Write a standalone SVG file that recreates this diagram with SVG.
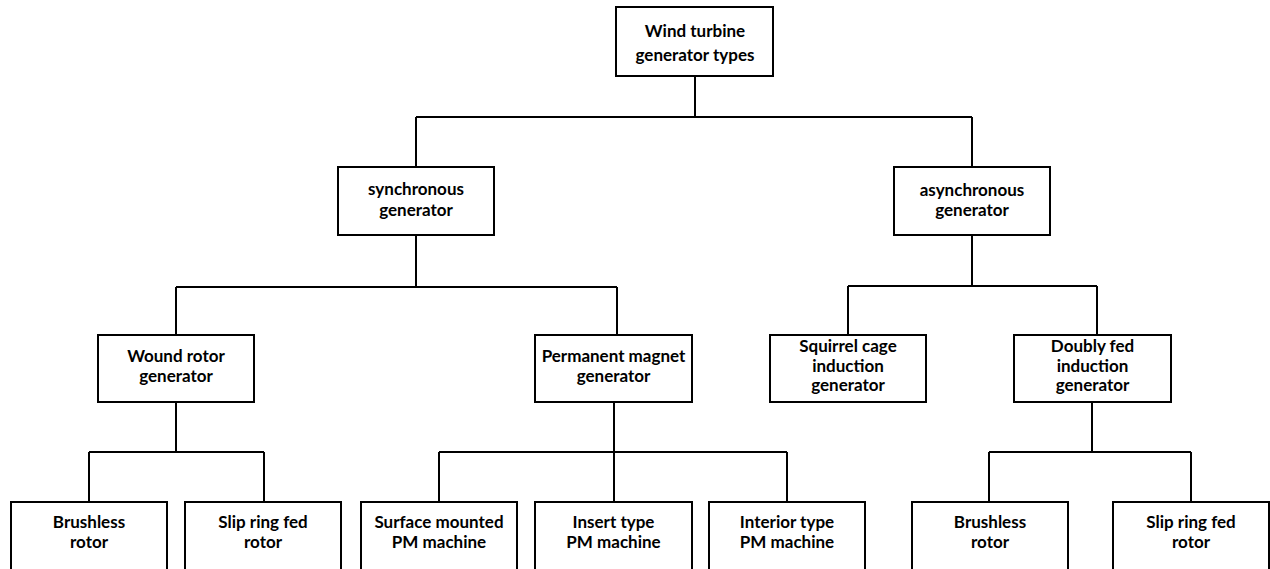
<svg xmlns="http://www.w3.org/2000/svg" width="1270" height="569" viewBox="0 0 1270 569">
<style>
.box{fill:#fff;stroke:#000;stroke-width:2}
.c{fill:none;stroke:#000;stroke-width:2}
text{font-family:Lato,"Liberation Sans",sans-serif;font-size:17px;font-weight:bold;text-anchor:middle;fill:#000}
</style>
<rect width="1270" height="569" fill="#fff"/>
<g id="connectors">
<path class="c" d="M695 76V117M416 117H972M416 117V167M972 117V167"/>
<path class="c" d="M416 235V287M176 287H617M176 287V335M617 287V335"/>
<path class="c" d="M972 235V286M848 286H1097M848 286V335M1097 286V335"/>
<path class="c" d="M176 402V452M89 452H264M89 452V502M264 452V502"/>
<path class="c" d="M614 402V452M439 452H787M439 452V502M614 452V502M787 452V502"/>
<path class="c" d="M1092 402V452M989 452H1191M989 452V502M1191 452V502"/>
</g>
<g id="n_root"><rect class="box" x="616" y="7" width="157" height="69"/><text x="695" y="37">Wind turbine</text><text x="695" y="61">generator types</text></g>
<g id="n_sync"><rect class="box" x="338" y="167" width="156" height="68"/><text x="416" y="195">synchronous</text><text x="416" y="216">generator</text></g>
<g id="n_async"><rect class="box" x="894" y="167" width="156" height="68"/><text x="972" y="196">asynchronous</text><text x="972" y="216">generator</text></g>
<g id="n_wound"><rect class="box" x="98" y="335" width="156" height="67"/><text x="176" y="362">Wound rotor</text><text x="176" y="382">generator</text></g>
<g id="n_pm"><rect class="box" x="535" y="335" width="157" height="67"/><text x="613.5" y="362">Permanent magnet</text><text x="613.5" y="382">generator</text></g>
<g id="n_squirrel"><rect class="box" x="770" y="335" width="156" height="67"/><text x="848" y="352">Squirrel cage</text><text x="848" y="372">induction</text><text x="848" y="391">generator</text></g>
<g id="n_doubly"><rect class="box" x="1014" y="335" width="157" height="67"/><text x="1092.5" y="352">Doubly fed</text><text x="1092.5" y="372">induction</text><text x="1092.5" y="391">generator</text></g>
<g id="n_brushless1"><rect class="box" x="11" y="502" width="156" height="80"/><text x="89" y="528">Brushless</text><text x="89" y="548">rotor</text></g>
<g id="n_slip1"><rect class="box" x="185" y="502" width="156" height="80"/><text x="263" y="528">Slip ring fed</text><text x="263" y="548">rotor</text></g>
<g id="n_surface"><rect class="box" x="361" y="502" width="156" height="80"/><text x="439" y="528">Surface mounted</text><text x="439" y="548">PM machine</text></g>
<g id="n_insert"><rect class="box" x="535" y="502" width="157" height="80"/><text x="613.5" y="528">Insert type</text><text x="613.5" y="548">PM machine</text></g>
<g id="n_interior"><rect class="box" x="709" y="502" width="156" height="80"/><text x="787" y="528">Interior type</text><text x="787" y="548">PM machine</text></g>
<g id="n_brushless2"><rect class="box" x="912" y="502" width="156" height="80"/><text x="990" y="528">Brushless</text><text x="990" y="548">rotor</text></g>
<g id="n_slip2"><rect class="box" x="1113" y="502" width="156" height="80"/><text x="1191" y="528">Slip ring fed</text><text x="1191" y="548">rotor</text></g>
</svg>
